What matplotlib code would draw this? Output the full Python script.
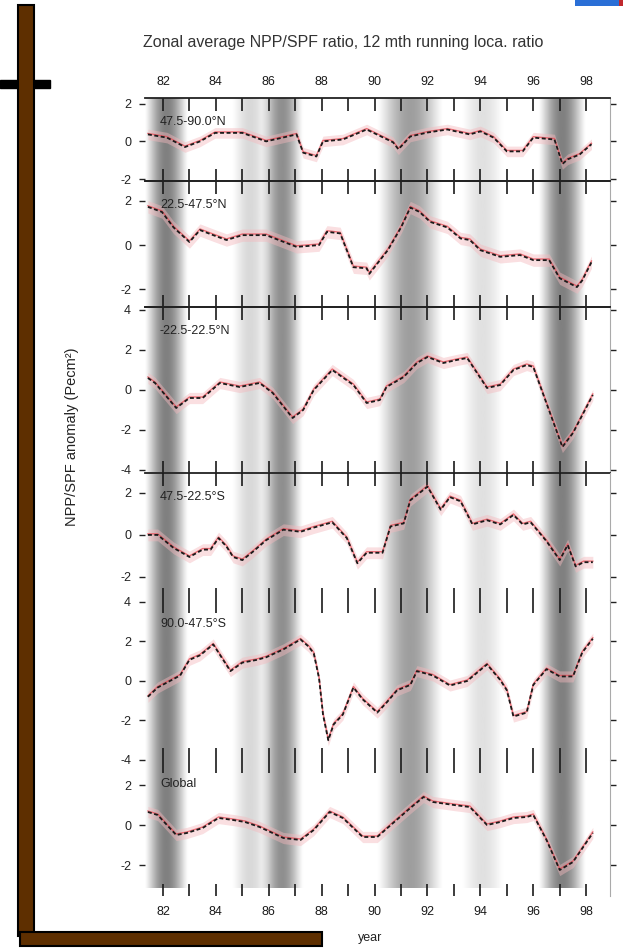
import numpy as np
import matplotlib.pyplot as plt
from matplotlib.patches import Rectangle

plt.rcParams['font.family'] = ['Liberation Sans', 'DejaVu Sans']

# zonal NPP/SPF anomaly, 12 month running mean (breakpoints in decimal years)
yr_n90 = [1981.43, 1982.15, 1982.83, 1983.4, 1983.97, 1985.0, 1985.9, 1987.05, 1987.3, 1987.8,
          1988.05, 1988.8, 1989.7, 1990.7, 1990.9, 1991.35, 1992.0, 1992.75, 1993.6, 1994.0,
          1994.5, 1995.0, 1995.6, 1996.0, 1996.8, 1997.1, 1997.3, 1997.75, 1998.2]
val_n90 = [0.37, 0.2, -0.3, 0.0, 0.45, 0.45, 0.0, 0.37, -0.6, -0.8,
           0.0, 0.1, 0.63, -0.05, -0.42, 0.26, 0.47, 0.63, 0.37, 0.53,
           0.2, -0.53, -0.53, 0.2, 0.1, -1.2, -0.95, -0.7, -0.15]

yr_n47 = [1981.43, 1981.96, 1982.4, 1983.0, 1983.4, 1983.9, 1984.4, 1985.0, 1985.9, 1987.05,
          1987.9, 1988.2, 1988.7, 1989.2, 1989.7, 1989.8, 1990.5, 1991.0, 1991.35, 1991.7,
          1992.1, 1992.75, 1993.25, 1993.6, 1994.0, 1994.75, 1995.5, 1996.0, 1996.6, 1997.0,
          1997.65, 1997.85, 1998.2]
val_n47 = [1.73, 1.5, 0.8, 0.14, 0.68, 0.45, 0.23, 0.45, 0.45, -0.08,
           0.0, 0.6, 0.53, -1.0, -1.05, -1.3, -0.23, 0.8, 1.7, 1.5,
           1.05, 0.8, 0.3, 0.23, -0.23, -0.53, -0.45, -0.68, -0.68, -1.5,
           -1.9, -1.6, -0.77]

yr_trop = [1981.43, 1981.7, 1982.5, 1983.0, 1983.5, 1984.15, 1984.9, 1985.65, 1986.15, 1986.9,
           1987.3, 1987.7, 1988.4, 1989.2, 1989.7, 1990.2, 1990.45, 1991.1, 1991.6, 1992.0,
           1992.6, 1993.1, 1993.5, 1994.25, 1994.75, 1995.25, 1995.75, 1996.0, 1996.55, 1997.1,
           1997.5, 1998.25]
val_trop = [0.6, 0.35, -0.9, -0.4, -0.4, 0.35, 0.15, 0.35, -0.15, -1.4,
            -1.0, 0.0, 1.0, 0.25, -0.65, -0.5, 0.15, 0.65, 1.35, 1.65,
            1.35, 1.5, 1.6, 0.1, 0.25, 1.0, 1.25, 1.15, -0.85, -2.85,
            -2.15, -0.25]

yr_s22 = [1981.43, 1981.8, 1982.4, 1983.0, 1983.5, 1983.8, 1984.1, 1984.4, 1984.65, 1985.0,
          1985.4, 1985.9, 1986.55, 1987.2, 1987.7, 1988.4, 1988.95, 1989.35, 1989.7, 1990.3,
          1990.6, 1991.1, 1991.35, 1992.0, 1992.5, 1992.85, 1993.25, 1993.7, 1994.25, 1994.75,
          1995.25, 1995.6, 1995.9, 1996.5, 1997.0, 1997.3, 1997.6, 1997.9, 1998.25]
val_s22 = [0.0, 0.0, -0.62, -1.05, -0.7, -0.7, -0.15, -0.55, -1.05, -1.2,
           -0.8, -0.25, 0.25, 0.15, 0.35, 0.6, -0.15, -1.35, -0.85, -0.85,
           0.4, 0.55, 1.65, 2.3, 1.2, 1.8, 1.6, 0.5, 0.7, 0.5,
           0.95, 0.5, 0.6, -0.3, -1.2, -0.48, -1.5, -1.3, -1.3]

yr_s47 = [1981.43, 1981.8, 1982.65, 1983.0, 1983.4, 1983.9, 1984.55, 1985.0, 1985.55, 1985.9,
          1986.55, 1987.2, 1987.5, 1987.7, 1987.9, 1988.05, 1988.25, 1988.45, 1988.8, 1989.2,
          1989.55, 1990.1, 1990.45, 1990.85, 1991.35, 1991.6, 1992.2, 1992.85, 1993.5, 1994.25,
          1994.75, 1995.0, 1995.25, 1995.75, 1996.0, 1996.5, 1997.0, 1997.5, 1997.85, 1998.25]
val_s47 = [-0.8, -0.33, 0.28, 1.07, 1.3, 1.85, 0.5, 0.93, 1.07, 1.2,
           1.6, 2.1, 1.75, 1.4, 0.14, -1.7, -3.0, -2.2, -1.7, -0.33,
           -0.93, -1.6, -1.1, -0.47, -0.2, 0.5, 0.28, -0.23, 0.0, 0.84,
           0.05, -0.47, -1.8, -1.6, -0.2, 0.6, 0.23, 0.23, 1.44, 2.14]

yr_glob = [1981.43, 1981.8, 1982.5, 1982.9, 1983.5, 1984.1, 1984.65, 1985.1, 1985.65, 1986.55,
           1987.2, 1987.7, 1988.3, 1988.8, 1989.55, 1990.1, 1990.7, 1991.35, 1991.85, 1992.2,
           1993.0, 1993.6, 1994.25, 1994.75, 1995.25, 1995.75, 1996.0, 1996.5, 1997.0, 1997.5,
           1998.25]
val_glob = [0.65, 0.5, -0.5, -0.4, -0.15, 0.35, 0.25, 0.15, -0.1, -0.65,
            -0.75, -0.25, 0.65, 0.35, -0.6, -0.6, 0.1, 0.85, 1.4, 1.15,
            1.0, 0.9, 0.0, 0.15, 0.35, 0.4, 0.5, -0.75, -2.25, -1.85,
            -0.4]

zones = ['47.5-90.0\u00b0N', '22.5-47.5\u00b0N', '-22.5-22.5\u00b0N',
         '47.5-22.5\u00b0S', '90.0-47.5\u00b0S', 'Global']
series = [(yr_n90, val_n90), (yr_n47, val_n47), (yr_trop, val_trop),
          (yr_s22, val_s22), (yr_s47, val_s47), (yr_glob, val_glob)]
ylims = [(-2.1, 2.3), (-2.8, 2.9), (-4.15, 4.15), (-3.1, 2.95), (-4.0, 4.1), (-3.55, 3.25)]
yticks = [[-2, 0, 2], [-2, 0, 2], [-4, -2, 0, 2, 4], [-2, 0, 2], [-4, -2, 0, 2, 4], [-2, 0, 2]]

# warm-event shading periods
band_start = [1981.3, 1984.6, 1985.7, 1990.1, 1993.3, 1996.2]
band_end = [1982.95, 1986.0, 1987.3, 1992.6, 1994.9, 1998.0]
band_depth = [0.5, 0.15, 0.44, 0.38, 0.12, 0.5]

years = np.arange(1982, 1999)
xlim = (1981.32, 1998.9)

W, H = 631, 949
fig = plt.figure(figsize=(W / 100, H / 100), dpi=100)

left, right = 145, 610
edges = [98, 181, 307, 473, 600, 760, 896]

def fx(px):
    return px / W

def fy(py):
    return 1 - py / H

# shaded background behind all panels
bg = fig.add_axes([fx(left), fy(888), fx(right - left), fy(98) - fy(888)])
xs = np.linspace(xlim[0], xlim[1], 1200)
shade = np.zeros_like(xs)
for s, e, d in zip(band_start, band_end, band_depth):
    m = (xs >= s) & (xs <= e)
    shade[m] += d * np.sin(np.pi * (xs[m] - s) / (e - s)) ** 1.3
gray = np.clip(1 - shade, 0, 1)
bg.imshow(gray[None, :], cmap='gray', vmin=0, vmax=1, aspect='auto',
          extent=[xlim[0], xlim[1], 0, 1], interpolation='bilinear')
bg.set_xlim(xlim)
bg.axis('off')

for i, ((xv, yv), zone) in enumerate(zip(series, zones)):
    top, bot = edges[i], edges[i + 1]
    ax = fig.add_axes([fx(left), fy(bot), fx(right - left), fy(top) - fy(bot)])
    ax.set_facecolor('none')
    xv = np.array(xv)
    yv = np.array(yv)
    ax.fill_between(xv, yv - 0.28, yv + 0.28, color='#f4b8bd', alpha=0.45, lw=0)
    ax.plot(xv, yv + 0.05, color='#e8505a', lw=1.0, alpha=0.8)
    ax.plot(xv, yv, color='#1a1a1a', lw=1.3, dashes=(2.2, 1.4))
    ax.set_xlim(xlim)
    ax.set_ylim(ylims[i])
    ax.set_yticks(yticks[i])
    ax.set_yticklabels([str(t) for t in yticks[i]])
    ax.tick_params(axis='y', which='both', left=True, right=True, direction='out',
                   length=4, width=1, labelsize=9, pad=6, colors='#222222')
    ax.set_xticks(years)
    ax.set_xticklabels([str(y)[2:] if y % 2 == 0 else '' for y in years])
    ax.tick_params(axis='x', top=True, bottom=True, direction='in', length=9, width=1.2,
                   labelsize=9, labelbottom=(i == 5), labeltop=(i == 0), pad=7,
                   colors='#1a1a1a')
    ax.spines['left'].set_visible(False)
    ax.spines['right'].set_color('#aaaaaa')
    ax.spines['right'].set_linewidth(0.8)
    ax.spines['top'].set_visible(i <= 2)
    ax.spines['bottom'].set_visible(i <= 2)
    for sp in ('top', 'bottom'):
        ax.spines[sp].set_linewidth(1.3)
        ax.spines[sp].set_color('#222222')
    ax.text(15 / (right - left), 1 - 24 / (bot - top) if i > 0 else 0.71, zone,
            transform=ax.transAxes, fontsize=9, color='#222222', va='center', ha='left')

fig.text(fx(343), fy(42), 'Zonal average NPP/SPF ratio, 12 mth running loca. ratio',
         ha='center', va='center', fontsize=11.5, color='#333333')
fig.text(fx(72), fy(437), 'NPP/SPF anomaly (Pecm\u00b2)', rotation=90,
         ha='center', va='center', fontsize=10.5, color='#222222')
fig.text(fx(370), fy(938), 'year', ha='center', va='center', fontsize=9, color='#222222')

# frame bars on the left and bottom
brown = '#5e2f00'
fig.patches.append(Rectangle((fx(0), fy(88)), fx(50), fy(80) - fy(88),
                             transform=fig.transFigure, color='black', zorder=5))
fig.patches.append(Rectangle((fx(18), fy(936)), fx(16), fy(5) - fy(936),
                             transform=fig.transFigure, facecolor=brown,
                             edgecolor='black', lw=1.5, zorder=6))
fig.patches.append(Rectangle((fx(20), fy(946)), fx(302), fy(932) - fy(946),
                             transform=fig.transFigure, facecolor=brown,
                             edgecolor='black', lw=1.5, zorder=6))
fig.patches.append(Rectangle((fx(575), fy(6)), fx(44), fy(0) - fy(6),
                             transform=fig.transFigure, facecolor='#2a6fd6',
                             edgecolor='none', zorder=6))
fig.patches.append(Rectangle((fx(619), fy(6)), fx(4), fy(0) - fy(6),
                             transform=fig.transFigure, facecolor='#c0282d',
                             edgecolor='none', zorder=6))

fig.savefig('out.png', dpi=100)
